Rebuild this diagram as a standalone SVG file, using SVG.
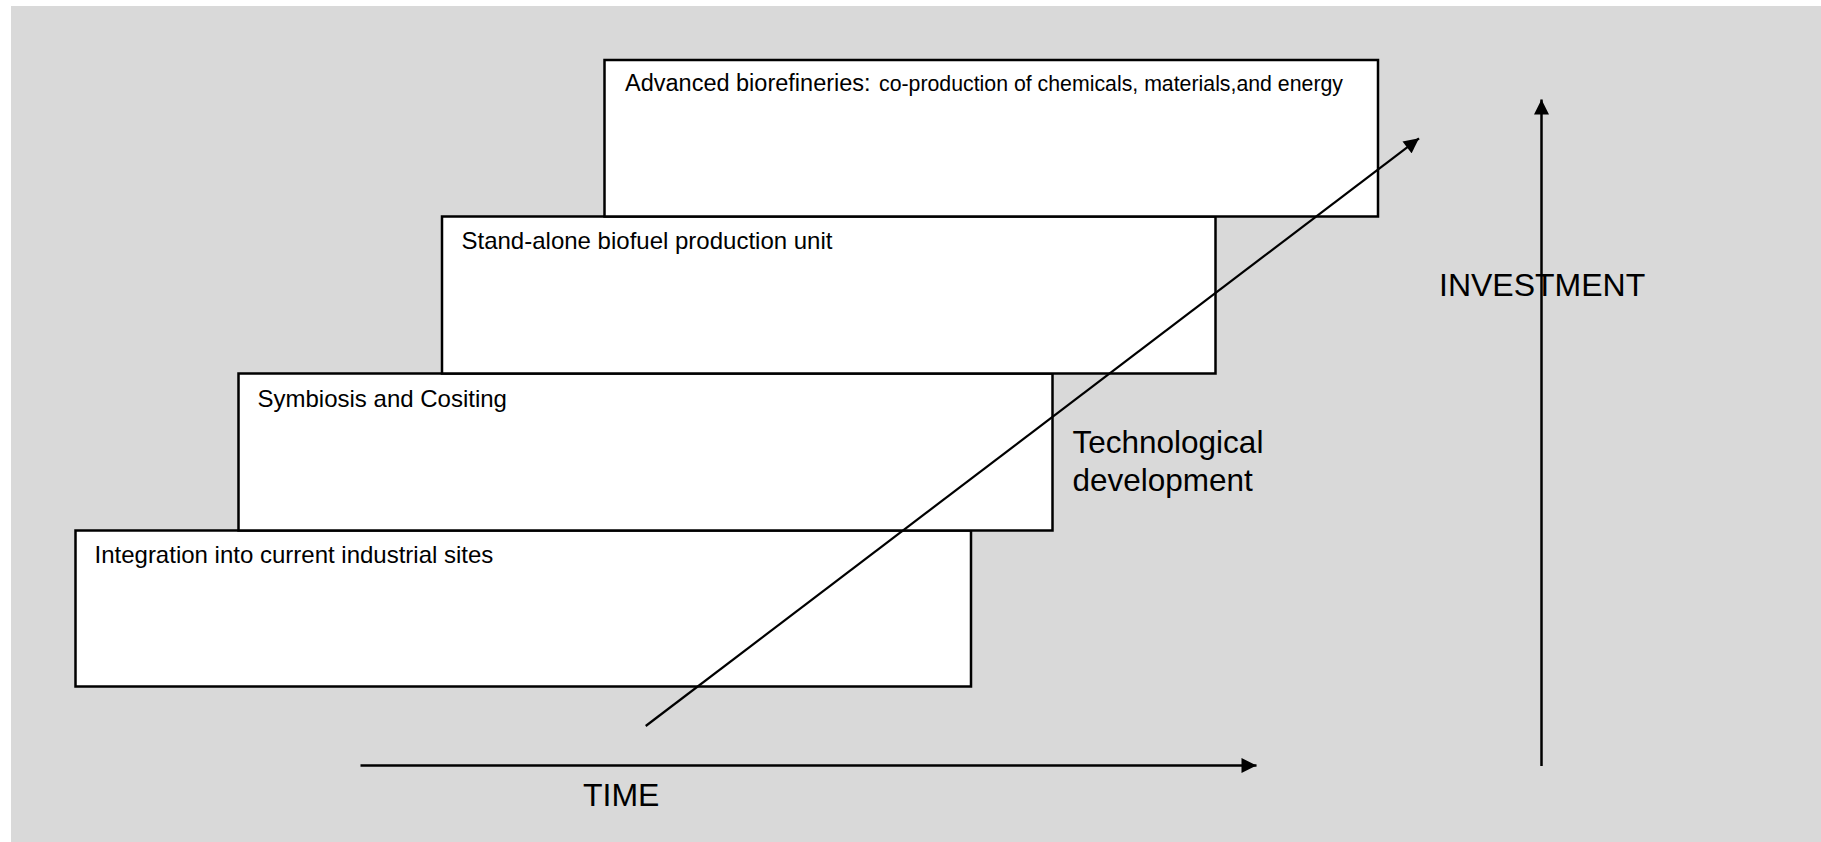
<svg xmlns="http://www.w3.org/2000/svg" width="1821" height="842" viewBox="0 0 1821 842">
  <style>
    .stage { fill: #ffffff; stroke: #000000; stroke-width: 2.5; }
    .label { font-family: "Liberation Sans", Arial, sans-serif; fill: #000000; }
    .box-text { font-size: 24px; }
    .axis-text { font-size: 32px; }
    .conn { stroke: #000000; fill: none; }
  </style>
  <defs>
    <marker id="head" viewBox="0 0 10 10" refX="10" refY="5" markerWidth="16" markerHeight="15" markerUnits="userSpaceOnUse" orient="auto">
      <path d="M0,0 L10,5 L0,10 Z" fill="#000000"/>
    </marker>
  </defs>

  <!-- backdrop -->
  <rect x="0" y="0" width="1821" height="842" fill="#ffffff"/>
  <rect x="11" y="6" width="1810" height="836" fill="#d9d9d9"/>

  <!-- stages, bottom to top -->
  <g id="stage-integration">
    <rect class="stage" x="75.5" y="530.5" width="895.5" height="156"/>
    <text class="label box-text" x="94.5" y="562.5">Integration into current industrial sites</text>
  </g>
  <g id="stage-symbiosis">
    <rect class="stage" x="238.5" y="373.5" width="814" height="157"/>
    <text class="label box-text" x="257.5" y="406.5">Symbiosis and Cositing</text>
  </g>
  <g id="stage-standalone">
    <rect class="stage" x="442" y="216.5" width="773.5" height="157"/>
    <text class="label box-text" x="461.5" y="249">Stand-alone biofuel production unit</text>
  </g>
  <g id="stage-advanced">
    <rect class="stage" x="604.5" y="60" width="773.5" height="156.5"/>
    <text class="label" x="625" y="91"><tspan font-size="23.5px">Advanced biorefineries:</tspan></text>
    <text class="label" x="879" y="91" font-size="21.5px" textLength="464" lengthAdjust="spacingAndGlyphs">co-production of chemicals, materials,and energy</text>
  </g>

  <!-- axes and trend -->
  <g id="connectors">
    <line class="conn" x1="360.5" y1="765.5" x2="1256.5" y2="765.5" stroke-width="2.5" marker-end="url(#head)"/>
    <line class="conn" x1="1541.5" y1="766" x2="1541.5" y2="99.5" stroke-width="2.5" marker-end="url(#head)"/>
    <line class="conn" x1="645.7" y1="726" x2="1419" y2="138.3" stroke-width="2.2" marker-end="url(#head)"/>
  </g>

  <!-- axis labels -->
  <g id="label-time">
    <text class="label axis-text" x="583" y="806">TIME</text>
  </g>
  <g id="label-investment">
    <text class="label axis-text" x="1439" y="296">INVESTMENT</text>
  </g>
  <g id="label-tech">
    <text class="label" font-size="31.5px" x="1072.5" y="452.5">Technological</text>
    <text class="label" font-size="31.5px" x="1072.5" y="490.5">development</text>
  </g>
</svg>
